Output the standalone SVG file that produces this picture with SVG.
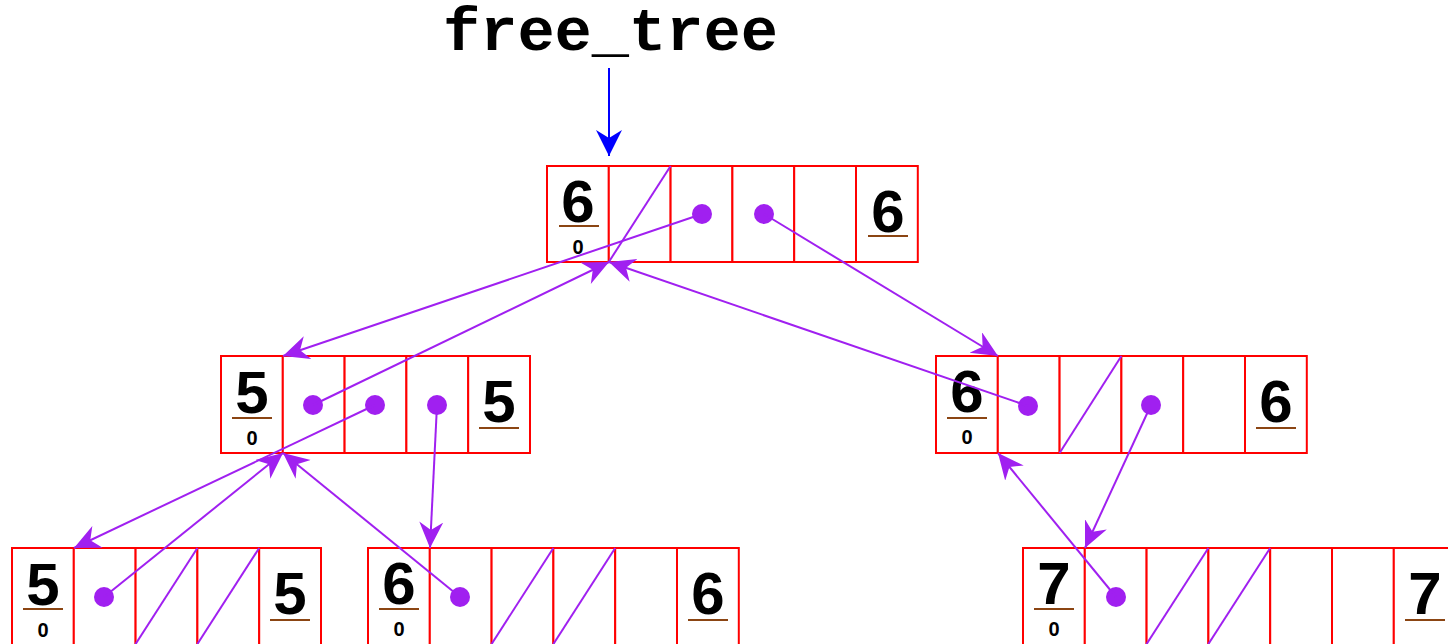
<svg xmlns="http://www.w3.org/2000/svg" width="1448" height="644" viewBox="0 0 1448 644">
<style>
.cell{fill:#fff;stroke:#ff0000;stroke-width:2}
.num{font-family:"Liberation Sans",Arial,sans-serif;font-weight:bold;font-size:60px;fill:#000;text-anchor:middle}
.sub{font-family:"Liberation Sans",Arial,sans-serif;font-weight:bold;font-size:20px;fill:#000;text-anchor:middle}
.ul{stroke:#8b4513;stroke-width:2}
.slash{stroke:#a020f0;stroke-width:2}
.dot{fill:#a020f0}
.ptr{stroke:#a020f0;stroke-width:2;fill:none;marker-end:url(#ah)}
.title{font-family:"Liberation Mono","Courier New",monospace;font-weight:bold;font-size:62px;fill:#000}
</style>
<defs>
<marker id="ah" markerUnits="userSpaceOnUse" markerWidth="28" markerHeight="26" refX="26" refY="12" orient="auto">
<path d="M26,12 L0,0 L8,12 L0,24 Z" fill="#a020f0"/>
</marker>
<marker id="bh" markerUnits="userSpaceOnUse" markerWidth="28" markerHeight="28" refX="26" refY="13" orient="auto">
<path d="M26,13 L0,0 L8,13 L0,26 Z" fill="#0000ff"/>
</marker>
</defs>
<rect width="1448" height="644" fill="#fff"/>
<text class="title" x="443" y="50">free_tree</text>
<line x1="609" y1="68" x2="609" y2="156" stroke="#0000ff" stroke-width="2" marker-end="url(#bh)"/>

<g id="node-top">
<rect class="cell" x="547" y="166" width="61.8" height="96"/>
<rect class="cell" x="608.8" y="166" width="61.8" height="96"/>
<rect class="cell" x="670.6" y="166" width="61.8" height="96"/>
<rect class="cell" x="732.4" y="166" width="61.8" height="96"/>
<rect class="cell" x="794.2" y="166" width="61.8" height="96"/>
<rect class="cell" x="856" y="166" width="61.8" height="96"/>
<text class="num" x="578" y="222">6</text>
<line class="ul" x1="559" y1="226" x2="599" y2="226"/>
<text class="sub" x="578" y="254">0</text>
<line class="slash" x1="670.6" y1="166" x2="608.8" y2="262"/>
<circle class="dot" cx="702" cy="214" r="10"/>
<circle class="dot" cx="764" cy="214" r="10"/>
<text class="num" x="888" y="232">6</text>
<line class="ul" x1="868" y1="236" x2="908" y2="236"/>
</g>

<g id="node-mid-left">
<rect class="cell" x="221" y="356" width="61.8" height="97"/>
<rect class="cell" x="282.8" y="356" width="61.8" height="97"/>
<rect class="cell" x="344.6" y="356" width="61.8" height="97"/>
<rect class="cell" x="406.4" y="356" width="61.8" height="97"/>
<rect class="cell" x="468.2" y="356" width="61.8" height="97"/>
<text class="num" x="252" y="413">5</text>
<line class="ul" x1="232" y1="418" x2="272" y2="418"/>
<text class="sub" x="252" y="445">0</text>
<circle class="dot" cx="313" cy="405" r="10"/>
<circle class="dot" cx="375" cy="405" r="10"/>
<circle class="dot" cx="437" cy="405" r="10"/>
<text class="num" x="499" y="422">5</text>
<line class="ul" x1="479" y1="428" x2="519" y2="428"/>
</g>

<g id="node-mid-right">
<rect class="cell" x="936" y="356" width="61.8" height="97"/>
<rect class="cell" x="997.8" y="356" width="61.8" height="97"/>
<rect class="cell" x="1059.6" y="356" width="61.8" height="97"/>
<rect class="cell" x="1121.4" y="356" width="61.8" height="97"/>
<rect class="cell" x="1183.2" y="356" width="61.8" height="97"/>
<rect class="cell" x="1245" y="356" width="61.8" height="97"/>
<text class="num" x="967" y="412">6</text>
<line class="ul" x1="947" y1="418" x2="987" y2="418"/>
<text class="sub" x="967" y="444">0</text>
<circle class="dot" cx="1028" cy="406" r="10"/>
<line class="slash" x1="1121.4" y1="356" x2="1059.6" y2="453"/>
<circle class="dot" cx="1151" cy="405" r="10"/>
<text class="num" x="1276" y="422">6</text>
<line class="ul" x1="1256" y1="428" x2="1296" y2="428"/>
</g>

<g id="node-bottom-left">
<rect class="cell" x="12" y="548" width="61.8" height="98"/>
<rect class="cell" x="73.8" y="548" width="61.8" height="98"/>
<rect class="cell" x="135.6" y="548" width="61.8" height="98"/>
<rect class="cell" x="197.4" y="548" width="61.8" height="98"/>
<rect class="cell" x="259.2" y="548" width="61.8" height="98"/>
<text class="num" x="43" y="605">5</text>
<line class="ul" x1="23" y1="609" x2="63" y2="609"/>
<text class="sub" x="43" y="637">0</text>
<circle class="dot" cx="104" cy="597" r="10"/>
<line class="slash" x1="197.4" y1="548" x2="135.6" y2="644"/>
<line class="slash" x1="259.2" y1="548" x2="197.4" y2="644"/>
<text class="num" x="290" y="614">5</text>
<line class="ul" x1="270" y1="620" x2="310" y2="620"/>
</g>

<g id="node-bottom-mid">
<rect class="cell" x="368" y="548" width="61.8" height="98"/>
<rect class="cell" x="429.8" y="548" width="61.8" height="98"/>
<rect class="cell" x="491.6" y="548" width="61.8" height="98"/>
<rect class="cell" x="553.4" y="548" width="61.8" height="98"/>
<rect class="cell" x="615.2" y="548" width="61.8" height="98"/>
<rect class="cell" x="677" y="548" width="61.8" height="98"/>
<text class="num" x="399" y="604">6</text>
<line class="ul" x1="379" y1="609" x2="419" y2="609"/>
<text class="sub" x="399" y="636">0</text>
<circle class="dot" cx="460" cy="597" r="10"/>
<line class="slash" x1="553.4" y1="548" x2="491.6" y2="644"/>
<line class="slash" x1="615.2" y1="548" x2="553.4" y2="644"/>
<text class="num" x="708" y="614">6</text>
<line class="ul" x1="688" y1="620" x2="728" y2="620"/>
</g>

<g id="node-bottom-right">
<rect class="cell" x="1023" y="548" width="61.8" height="98"/>
<rect class="cell" x="1084.8" y="548" width="61.8" height="98"/>
<rect class="cell" x="1146.6" y="548" width="61.8" height="98"/>
<rect class="cell" x="1208.4" y="548" width="61.8" height="98"/>
<rect class="cell" x="1270.2" y="548" width="61.8" height="98"/>
<rect class="cell" x="1332" y="548" width="61.8" height="98"/>
<rect class="cell" x="1393.8" y="548" width="61.8" height="98"/>
<text class="num" x="1054" y="604">7</text>
<line class="ul" x1="1034" y1="609" x2="1074" y2="609"/>
<text class="sub" x="1054" y="636">0</text>
<circle class="dot" cx="1116" cy="597" r="10"/>
<line class="slash" x1="1208.4" y1="548" x2="1146.6" y2="644"/>
<line class="slash" x1="1270.2" y1="548" x2="1208.4" y2="644"/>
<text class="num" x="1425" y="614">7</text>
<line class="ul" x1="1405" y1="620" x2="1445" y2="620"/>
</g>

<g id="connectors">
<line class="ptr" x1="702" y1="214" x2="283" y2="356"/>
<line class="ptr" x1="764" y1="214" x2="998" y2="356"/>
<line class="ptr" x1="313" y1="405" x2="609" y2="262"/>
<line class="ptr" x1="1028" y1="406" x2="609" y2="262"/>
<line class="ptr" x1="375" y1="405" x2="74" y2="548"/>
<line class="ptr" x1="437" y1="405" x2="430" y2="548"/>
<line class="ptr" x1="104" y1="597" x2="283" y2="453"/>
<line class="ptr" x1="460" y1="597" x2="283" y2="453"/>
<line class="ptr" x1="1151" y1="405" x2="1085" y2="548"/>
<line class="ptr" x1="1116" y1="597" x2="998" y2="453"/>
</g>
</svg>
